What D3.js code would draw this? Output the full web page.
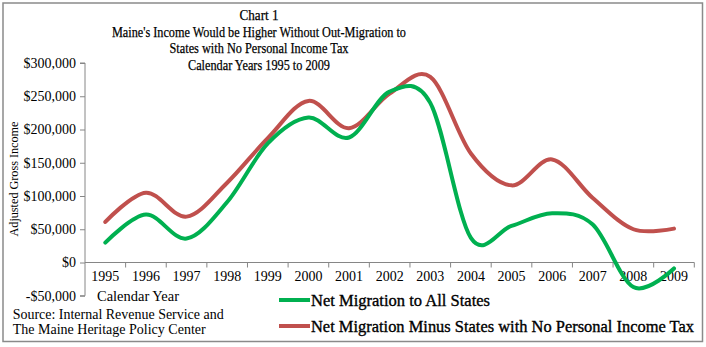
<!DOCTYPE html>
<html>
<head>
<meta charset="utf-8">
<script src="https://cdn.jsdelivr.net/npm/d3@7"></script>
<style>
  body { margin: 0; background: #fff; }
  svg text { font-family: "Liberation Serif", "Times New Roman", serif; fill: #000; }
</style>
</head>
<body>
<svg id="chart" width="706" height="347"></svg>
<script>
// AGI lost to out-migration, by calendar year
var years = ["1995","1996","1997","1998","1999","2000","2001","2002","2003","2004","2005","2006","2007","2008","2009"]
var allStates = [30000, 72000, 36000, 91000, 179000, 218000, 188000, 257000, 240000, 37000, 55000, 74000, 57000, -37000, -9000]
var minusNoTax = [61000, 105000, 69000, 120000, 187000, 243000, 202000, 254000, 279000, 164000, 116000, 155000, 97000, 50000, 51000]
var yTicks = [-50000, 0, 50000, 100000, 150000, 200000, 250000, 300000]
var titleLines = ["Chart 1", "Maine's Income Would be Higher Without Out-Migration to", "States with No Personal Income Tax", "Calendar Years 1995 to 2009"]
var seriesNames = ["Net Migration to All States", "Net Migration Minus States with No Personal Income Tax"]

var svg = d3.select("#chart")
var axisColor = "#868686"

// outer frame
svg.append("rect")
    .attr("x", 3).attr("y", 3)
    .attr("width", 699.5).attr("height", 338.5)
    .attr("fill", "none")
    .attr("stroke", "#8a8a8a")
    .attr("stroke-width", 1.5)

var x = d3.scaleBand().domain(years).range([85, 694.3])
var y = d3.scaleLinear().domain([-50000, 300000]).range([295.75, 63])
var cx = function (d, i) { return x(years[i]) + x.bandwidth() / 2 }

// title
svg.append("g").selectAll("text")
    .data(titleLines)
    .enter().append("text")
    .attr("x", 259)
    .attr("y", function (d, i) { return 20 + i * 16.5 })
    .attr("text-anchor", "middle")
    .attr("font-size", 15.5)
    .attr("textLength", function (d, i) { return [39, 294, 179, 142][i] })
    .attr("lengthAdjust", "spacingAndGlyphs")
    .style("stroke", "#000")
    .style("stroke-width", 0.25)
    .text(function (d) { return d })

// y axis
var yAxis = svg.append("g")
    .attr("transform", "translate(85,0)")
    .call(d3.axisLeft(y)
        .tickValues(yTicks)
        .tickSize(5)
        .tickPadding(4)
        .tickFormat(function (v) { return (v < 0 ? "-$" : "$") + d3.format(",")(Math.abs(v)) }))
yAxis.select(".domain").attr("stroke", axisColor).attr("d", "M-5," + y(300000) + "H0V" + y(-50000) + "H-5")
yAxis.selectAll(".tick line").attr("stroke", axisColor)
yAxis.selectAll(".tick text")
    .attr("font-size", 14)
    .attr("fill", "#000")

// x axis line at zero with ticks on the category boundaries
var bounds = years.map(function (d) { return x(d) }).concat([x.range()[1]])
svg.append("line")
    .attr("x1", 85).attr("x2", 694.3)
    .attr("y1", y(0)).attr("y2", y(0))
    .attr("stroke", axisColor)
svg.append("g").selectAll("line")
    .data(bounds.slice(1))
    .enter().append("line")
    .attr("x1", function (d) { return d }).attr("x2", function (d) { return d })
    .attr("y1", y(0)).attr("y2", y(0) + 5)
    .attr("stroke", axisColor)

var xAxis = svg.append("g")
    .attr("transform", "translate(0," + y(0) + ")")
    .call(d3.axisBottom(x).tickSize(0).tickPadding(9))
xAxis.select(".domain").remove()
xAxis.selectAll(".tick text")
    .attr("font-size", 14)
    .attr("fill", "#000")

svg.append("text")
    .attr("x", 97).attr("y", 301)
    .attr("font-size", 14)
    .attr("textLength", 82)
    .attr("lengthAdjust", "spacingAndGlyphs")
    .text("Calendar Year")

svg.append("text")
    .attr("transform", "translate(18,179) rotate(-90)")
    .attr("text-anchor", "middle")
    .attr("font-size", 13.5)
    .attr("textLength", 115)
    .attr("lengthAdjust", "spacingAndGlyphs")
    .text("Adjusted Gross Income")

// smoothed lines
var line = d3.line()
    .x(cx)
    .y(function (d) { return y(d) })
    .curve(d3.curveCardinal.tension(0))

var colors = ["#00B050", "#C0504D"]
var series = [allStates, minusNoTax]

svg.append("g").selectAll("path")
    .data(series.slice().reverse())
    .enter().append("path")
    .attr("d", line)
    .attr("fill", "none")
    .attr("stroke", function (d, i) { return colors.slice().reverse()[i] })
    .attr("stroke-width", 4)
    .attr("stroke-linecap", "round")
    .attr("stroke-linejoin", "round")

// source note
svg.append("text").attr("x", 12.7).attr("y", 319)
    .attr("font-size", 14)
    .attr("textLength", 211).attr("lengthAdjust", "spacingAndGlyphs")
    .text("Source: Internal Revenue Service and")
svg.append("text").attr("x", 12.7).attr("y", 334)
    .attr("font-size", 14)
    .attr("textLength", 193).attr("lengthAdjust", "spacingAndGlyphs")
    .text("The Maine Heritage Policy Center")

// legend
var legend = svg.append("g").selectAll("g")
    .data(seriesNames)
    .enter().append("g")
    .attr("transform", function (d, i) { return "translate(279," + (300 + i * 26) + ")" })
legend.append("line")
    .attr("x1", 0).attr("x2", 31)
    .attr("stroke", function (d, i) { return colors[i] })
    .attr("stroke-width", 4)
legend.append("text")
    .attr("x", 32).attr("y", 5.5)
    .attr("font-size", 16.5)
    .attr("textLength", function (d, i) { return [179, 383][i] })
    .attr("lengthAdjust", "spacingAndGlyphs")
    .style("stroke", "#000")
    .style("stroke-width", 0.35)
    .text(function (d) { return d })
</script>
</body>
</html>
